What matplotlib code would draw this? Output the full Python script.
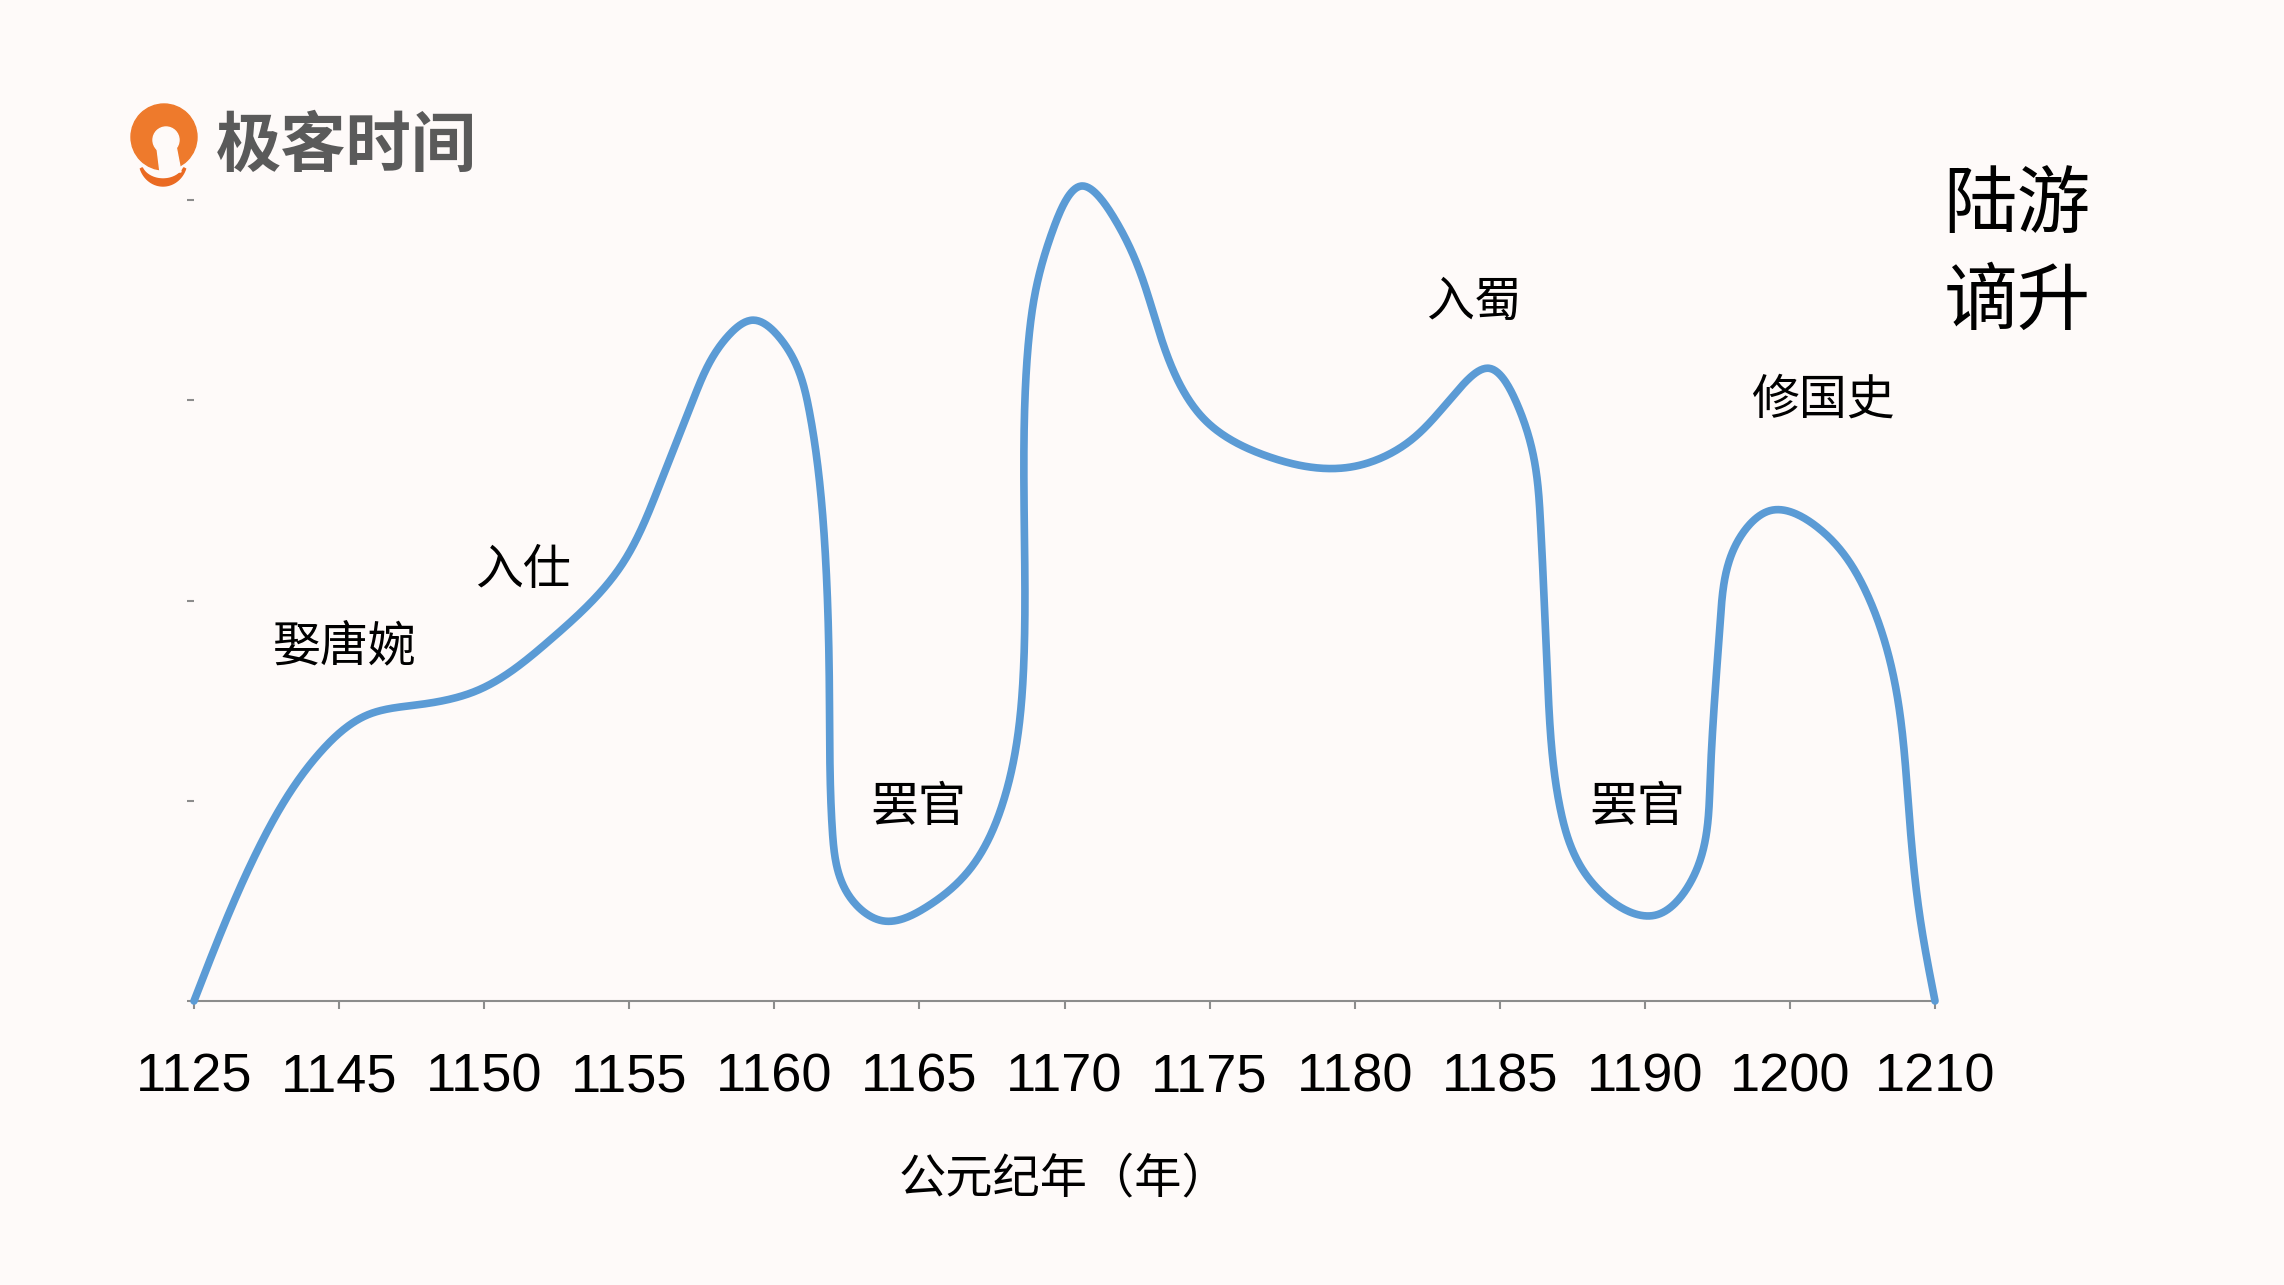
import numpy as np
import matplotlib
matplotlib.use('Agg')
import matplotlib.pyplot as plt
from matplotlib.patches import Circle, Polygon

# ---------------- data ----------------
years = ['1125', '1145', '1150', '1155', '1160', '1165', '1170',
         '1175', '1180', '1185', '1190', '1200', '1210']
ytick_vals = [0, 1, 2, 3, 4]

# traced curve (category-index position, value)
curve_x = [0.00, 0.45, 0.88, 1.20, 1.55, 1.95, 2.45, 2.95, 3.20, 3.45, 3.68,
           3.85, 4.05, 4.24, 4.35, 4.38, 4.40, 4.52, 4.75, 5.05, 5.35, 5.58,
           5.72, 5.72, 5.76, 5.92, 6.12, 6.35, 6.68, 6.97, 7.40, 8.00, 8.35,
           8.70, 8.92, 9.12, 9.28, 9.33, 9.42, 9.65, 10.08, 10.32, 10.45,
           10.52, 10.66, 10.87, 11.20, 11.52, 11.72, 11.82, 11.90, 12.00]
curve_y = [0.00, 0.77, 1.25, 1.43, 1.48, 1.55, 1.80, 2.18, 2.56, 3.02, 3.32,
           3.40, 3.30, 2.95, 2.25, 1.50, 0.85, 0.52, 0.40, 0.47, 0.66, 1.00,
           1.70, 2.60, 3.35, 3.85, 4.07, 3.90, 3.28, 2.90, 2.72, 2.67, 2.78,
           3.04, 3.16, 2.98, 2.40, 1.60, 0.95, 0.58, 0.43, 0.60, 1.10,
           1.90, 2.32, 2.45, 2.36, 2.05, 1.60, 0.95, 0.40, 0.00]

event_labels = ['娶唐婉', '入仕', '罢官', '入蜀', '罢官', '修国史']
event_x = [1.04, 2.27, 4.99, 8.82, 9.95, 11.23]
event_y = [1.77, 2.15, 0.97, 3.49, 0.97, 3.00]

title_lines = ['陆游', '谪升']
xlabel_text = '公元纪年（年）'
brand_text = '极客时间'

CJK = 'Noto Sans CJK SC'
DIGIT = 'Liberation Sans'

BG = '#FEFAF9'
LINE = '#5B9BD5'
AXC = '#8C8C8C'


def natural_spline_1d(t, v, tt):
    n = len(t)
    h = np.diff(t)
    A = np.zeros((n, n))
    b = np.zeros(n)
    A[0, 0] = 1.0
    A[-1, -1] = 1.0
    for i in range(1, n - 1):
        A[i, i - 1] = h[i - 1]
        A[i, i] = 2 * (h[i - 1] + h[i])
        A[i, i + 1] = h[i]
        b[i] = 6 * ((v[i + 1] - v[i]) / h[i] - (v[i] - v[i - 1]) / h[i - 1])
    M = np.linalg.solve(A, b)
    idx = np.clip(np.searchsorted(t, tt) - 1, 0, n - 2)
    t0, t1 = t[idx], t[idx + 1]
    hh = t1 - t0
    a = (t1 - tt) / hh
    c = (tt - t0) / hh
    return (a * v[idx] + c * v[idx + 1]
            + ((a ** 3 - a) * M[idx] + (c ** 3 - c) * M[idx + 1]) * hh ** 2 / 6)


def smooth_curve(px, py, sx=145.1, sy=200.0, n=3000):
    X = np.asarray(px) * sx
    Y = np.asarray(py) * sy
    d = np.sqrt(np.diff(X) ** 2 + np.diff(Y) ** 2)
    t = np.concatenate([[0], np.cumsum(d)])
    tt = np.linspace(0, t[-1], n)
    return natural_spline_1d(t, X, tt) / sx, natural_spline_1d(t, Y, tt) / sy


W, H = 2284, 1285
fig = plt.figure(figsize=(W / 100, H / 100), dpi=100, facecolor=BG)

ax = fig.add_axes([194 / W, 1 - 1001 / H, 1741 / W, 801 / H])
ax.set_facecolor(BG)
ax.set_xlim(0, 12)
ax.set_ylim(0, 4)
for s in ['top', 'right', 'left']:
    ax.spines[s].set_visible(False)
ax.spines['bottom'].set_color(AXC)
ax.spines['bottom'].set_linewidth(1.5)

ax.set_xticks(range(len(years)))
ax.set_xticklabels(years, fontfamily=DIGIT, fontsize=39, color='black')
ax.tick_params(axis='x', direction='out', length=6, width=1.5, color=AXC, pad=31)
ax.set_yticks(ytick_vals)
ax.set_yticklabels([''] * len(ytick_vals))
ax.tick_params(axis='y', direction='out', length=5, width=1.5, color=AXC)

sx, sy = smooth_curve(curve_x, curve_y)
ax.plot(sx, sy, color=LINE, lw=5.5, clip_on=False, solid_capstyle='round',
        solid_joinstyle='round', zorder=3)

for s, x, y in zip(event_labels, event_x, event_y):
    ax.text(x, y, s, fontsize=34.5, ha='center', va='center',
            family=[CJK, 'DejaVu Sans'], color='black')

fig.text(1064 / W, 1 - 1179 / H, xlabel_text, fontsize=34, ha='center', va='center',
         family=[CJK, 'DejaVu Sans'], color='black')

fig.text(2017 / W, 1 - 206 / H, title_lines[0], fontsize=53, ha='center', va='center',
         family=[CJK, 'DejaVu Sans'], fontweight='normal', color='black')
fig.text(2017 / W, 1 - 303 / H, title_lines[1], fontsize=53, ha='center', va='center',
         family=[CJK, 'DejaVu Sans'], fontweight='normal', color='black')

# brand
fig.text(346 / W, 1 - 146 / H, brand_text, fontsize=47, ha='center', va='center',
         family=[CJK, 'DejaVu Sans'], fontweight='bold', color='#5A5A5A')

oax = fig.add_axes([0, 0, 1, 1])
oax.set_xlim(0, W)
oax.set_ylim(H, 0)
oax.set_axis_off()
oax.add_patch(Circle((164, 137), 33, color='#EE7A2C', zorder=1))
oax.add_patch(Circle((166, 140), 13, color=BG, zorder=2))
oax.add_patch(Polygon([(157, 148), (176, 146), (181, 172), (160, 172)], closed=True,
                      color=BG, zorder=2))
th = np.linspace(np.radians(200), np.radians(340), 40)
outer = np.column_stack([163 + 24 * np.cos(th), 160 - 26 * np.sin(th)])
inner = np.column_stack([163 + 22 * np.cos(th[::-1]), 162 - 17 * np.sin(th[::-1])])
oax.add_patch(Polygon(np.vstack([outer, inner]), closed=True, color='#EA6A22', zorder=1))

fig.savefig('out.png', dpi=100, facecolor=BG)
